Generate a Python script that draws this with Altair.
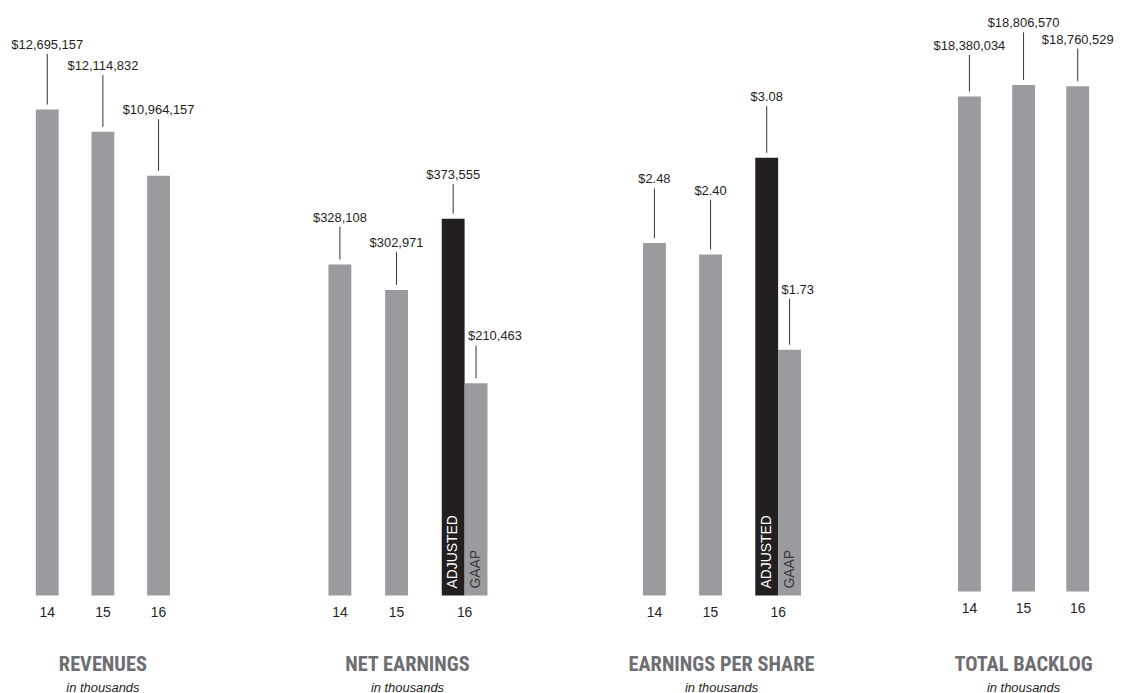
import altair as alt
import pandas as pd

# ---- data ----
years = ["14", "15", "16"]
revenues = [12695157, 12114832, 10964157]
net_earnings = [328108, 302971, 373555]      # 2016 value is ADJUSTED
net_earnings_gaap_16 = 210463
eps = [2.48, 2.40, 3.08]                     # 2016 value is ADJUSTED
eps_gaap_16 = 1.73
backlog = [18380034, 18806570, 18760529]

titles = ["REVENUES", "NET EARNINGS", "EARNINGS PER SHARE", "TOTAL BACKLOG"]
subtitle = "in thousands"

# ---- styles / layout (pixels) ----
GRAY = "#999b9e"
BLACK = "#231f20"
TEXT = "#231f20"
TITLE_GRAY = "#6d6e71"
FONT = "Liberation Sans"
TITLE_FONT = "'Liberation Sans Narrow', 'Roboto Condensed', 'DejaVu Sans Condensed', 'Liberation Sans'"
H = 589
BAR_W = 23
GAP = 5          # gap between bar top and leader line
TXT_GAP = 9      # leader top to label centre


def money_int(v):
    return f"${v:,}"


def money_dec(v):
    return f"${v:.2f}"


def make_panel(values, gaap16, fmt, px_per_unit, x_range, width, height, rises, gaap_rise,
               title, title_x):
    split = gaap16 is not None
    ymax = height / px_per_unit
    df = pd.DataFrame({"year": years, "value": values, "label": [fmt(v) for v in values]})
    xenc = alt.X("year:O", scale=alt.Scale(type="point", domain=years, range=x_range, padding=0), axis=None)
    yenc = alt.Y("value:Q", scale=alt.Scale(domain=[0, ymax]), axis=None)

    layers = []
    if split:
        single = df[df.year != "16"]
        adj = df[df.year == "16"].assign(kind="ADJUSTED")
        gdf = pd.DataFrame({"year": ["16"], "value": [gaap16], "kind": ["GAAP"], "label": [fmt(gaap16)]})
        layers += [
            alt.Chart(single).mark_bar(width=BAR_W, color=GRAY).encode(x=xenc, y=yenc),
            alt.Chart(adj).mark_bar(width=BAR_W, color=BLACK).encode(x=xenc, y=yenc),
            alt.Chart(gdf).mark_bar(width=BAR_W, color=GRAY, xOffset=BAR_W).encode(x=xenc, y=yenc),
            alt.Chart(adj).mark_text(font=FONT, fontSize=14, color="white", angle=270, align="left",
                                     baseline="middle").encode(x=xenc, y=alt.value(height - 7), text="kind:N"),
            alt.Chart(gdf).mark_text(font=FONT, fontSize=14, color="#3a3a3a", angle=270, align="left",
                                     baseline="middle", xOffset=BAR_W)
            .encode(x=xenc, y=alt.value(height - 7), text="kind:N"),
            # GAAP leader + label
            alt.Chart(gdf).mark_rule(color="#333333", strokeWidth=1, xOffset=BAR_W, yOffset=-GAP,
                                     y2Offset=-(gaap_rise - TXT_GAP)).encode(x=xenc, y=yenc, y2="value:Q"),
            alt.Chart(gdf).mark_text(font=FONT, fontSize=13, color=TEXT, baseline="middle", align="left",
                                     xOffset=BAR_W, dx=-8, dy=-gaap_rise)
            .encode(x=xenc, y=yenc, text="label:N"),
        ]
    else:
        layers.append(alt.Chart(df).mark_bar(width=BAR_W, color=GRAY).encode(x=xenc, y=yenc))

    for i, yr in enumerate(years):
        row = df[df.year == yr]
        r = rises[i]
        layers += [
            alt.Chart(row).mark_rule(color="#333333", strokeWidth=1, yOffset=-GAP, y2Offset=-(r - TXT_GAP))
            .encode(x=xenc, y=yenc, y2="value:Q"),
            alt.Chart(row).mark_text(font=FONT, fontSize=13, color=TEXT, baseline="middle", dy=-r)
            .encode(x=xenc, y=yenc, text="label:N"),
        ]

    year_df = pd.DataFrame({"year": years})
    if split:
        layers += [
            alt.Chart(year_df[year_df.year != "16"]).mark_text(font=FONT, fontSize=14, color=TEXT, baseline="middle")
            .encode(x=xenc, y=alt.value(height + 17.5), text="year:N"),
            alt.Chart(year_df[year_df.year == "16"]).mark_text(font=FONT, fontSize=14, color=TEXT,
                                                               baseline="middle", dx=BAR_W / 2)
            .encode(x=xenc, y=alt.value(height + 17.5), text="year:N"),
        ]
    else:
        layers.append(
            alt.Chart(year_df).mark_text(font=FONT, fontSize=14, color=TEXT, baseline="middle")
            .encode(x=xenc, y=alt.value(height + 17.5), text="year:N"))

    tdf = pd.DataFrame({"t": [title], "s": [subtitle]})
    layers += [
        alt.Chart(tdf).mark_text(font=TITLE_FONT, fontSize=20.5, fontWeight="bold", color=TITLE_GRAY,
                                 baseline="middle").encode(x=alt.value(title_x), y=alt.value(H + 70), text="t:N"),
        alt.Chart(tdf).mark_text(font=FONT, fontSize=13, fontStyle="italic", color=TEXT,
                                 baseline="middle").encode(x=alt.value(title_x), y=alt.value(H + 93), text="s:N"),
    ]
    return alt.layer(*layers).properties(width=width, height=height)


p1 = make_panel(revenues, None, money_int, 489 / 12695157, [39.5, 151.5], 242, H,
                [65, 66, 66], None, titles[0], 95.5)
p2 = make_panel(net_earnings, net_earnings_gaap_16, money_int, 1.015e-3, [92, 206], 315, H,
                [47, 47, 44], 47, titles[1], 160)
p3 = make_panel(eps, eps_gaap_16, money_dec, 143.0, [93.5, 206.5], 315, H,
                [64, 64, 61], 60, titles[2], 161)
p4 = make_panel(backlog, None, money_int, 27.1e-6, [95.5, 204.5], 234, H - 4,
                [51, 62, 47], None, titles[3], 150)

chart = alt.hconcat(p1, p2, p3, p4, spacing=0).properties(padding=0).configure_view(stroke=None)

chart.save("out.html", embed_options={"renderer": "svg", "actions": False})
